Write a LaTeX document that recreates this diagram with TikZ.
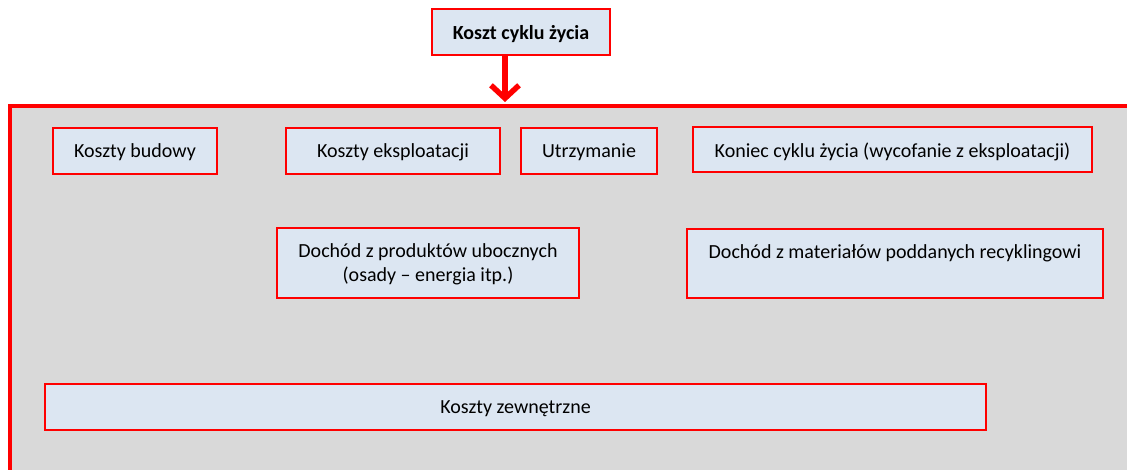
\documentclass[tikz,border=0pt]{standalone}
\usepackage{fontspec}
\setmainfont{Carlito}
\usetikzlibrary{arrows.meta}
\definecolor{framegray}{HTML}{D9D9D9}
\definecolor{boxblue}{HTML}{DCE6F2}
\definecolor{boxred}{HTML}{FF0000}
\begin{document}
\begin{tikzpicture}[x=1pt, y=-1pt,
  cost/.style={draw=boxred, line width=2pt, fill=boxblue, inner sep=0pt,
    text depth=0pt, align=center, font=\fontsize{20}{24}\selectfont},
  title/.style={cost, font=\fontsize{20}{24}\selectfont\bfseries}]
\clip (0,0) rectangle (1127,470);
\fill[white] (0,0) rectangle (1127,470);
\draw[boxred, line width=4pt, fill=framegray] (10,106) rectangle (1160,500);
\node[title, minimum width=178, minimum height=46] (lcc) at (521,32.5){Koszt cyklu życia};
\coordinate (tip) at (505,102);
\draw[boxred, line width=5.5pt, -{Straight Barb[length=13pt, width=28pt]}] (lcc.south -| tip) -- (tip);
\node[cost, minimum width=164, minimum height=46] (bud) at (135,151){Koszty budowy};
\node[cost, minimum width=214, minimum height=46] (eks) at (393,151){Koszty eksploatacji};
\node[cost, minimum width=136, minimum height=46] (utr) at (589,151){Utrzymanie};
\node[cost, minimum width=399, minimum height=45] (kon) at (892.5,150){Koniec cyklu życia (wycofanie z eksploatacji)};
\node[cost, minimum width=302, minimum height=70] (ubo) at (428,263){Dochód z produktów ubocznych\\(osady – energia itp.)};
\node[cost, minimum width=416, minimum height=69] (rec) at (895,263.5){Dochód z materiałów poddanych recyklingowi\\\strut};
\node[cost, minimum width=941, minimum height=46] (zew) at (515.5,407){Koszty zewnętrzne};
\end{tikzpicture}
\end{document}
